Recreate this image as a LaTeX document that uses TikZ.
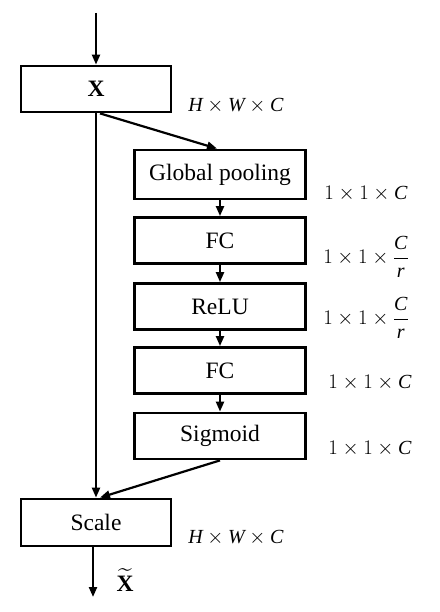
\documentclass[tikz,border=0pt]{standalone}
\usepackage{amsmath}
\usepackage{fontspec}
\setmainfont{Liberation Serif}
\usepackage{tikz}
\usetikzlibrary{arrows.meta}
\newcommand{\itv}[1]{\textit{#1}}
\tikzset{
  blk/.style={draw,line width=2.8pt,minimum height=46pt,inner sep=0pt,
    font=\fontsize{23.5}{28}\selectfont},
  wideblk/.style={blk,minimum width=150pt},
  seblk/.style={blk,minimum width=171pt},
  dimlbl/.style={font=\fontsize{20}{24}\selectfont,inner sep=0pt},
  arr/.style={line width=2.2pt,-{Triangle[length=10pt,width=8pt]}}
}

\begin{document}
\begin{tikzpicture}[x=1pt,y=-1pt]
        \useasboundingbox (0,0) rectangle (439,612);
        % the main path
        \coordinate (in) at (96,13);
        \node[wideblk] (X) at (96,89) {\textbf{X}};
        \node[wideblk,minimum height=47pt] (scale) at (96,522.5) {Scale};
        \coordinate (out) at (93,597);
        % the squeeze and excitation branch
        \node[seblk,minimum height=49pt] (gpool) at (220,174.5) {Global pooling};
        \node[seblk] (fca) at (220,240.5) {FC};
        \node[seblk] (relu) at (220,306.5) {ReLU};
        \node[seblk] (fcb) at (220,370.5) {FC};
        \node[seblk] (sigm) at (220,436) {Sigmoid};
        % sizes of the outputs
        \node[dimlbl] (dx) at (236,106) {$\itv{H}\times \itv{W}\times \itv{C}$};
        \node[dimlbl] (dgpool) at (366,194) {$1\times 1\times \itv{C}$};
        \node[dimlbl] (dfca) at (366,257) {$1\times 1\times \dfrac{\itv{C}}{\itv{r}}$};
        \node[dimlbl] (drelu) at (366,318) {$1\times 1\times \dfrac{\itv{C}}{\itv{r}}$};
        \node[dimlbl] (dfcb) at (370,383) {$1\times 1\times \itv{C}$};
        \node[dimlbl] (dsigm) at (370,449) {$1\times 1\times \itv{C}$};
        \node[dimlbl] (dscale) at (236,538) {$\itv{H}\times \itv{W}\times \itv{C}$};
        \node[font=\fontsize{23.5}{28}\selectfont,inner sep=0pt] (xt) at (125,580) {$\widetilde{\textbf{X}}$};
        % the arrows
        \draw[arr] (in) -- (X.north);
        \draw[arr] ([xshift=4pt]X.south) -- ([xshift=-3pt]gpool.north);
        \draw[arr] (X.south) -- (scale.north);
        \draw[arr] (gpool) -- (fca);
        \draw[arr] (fca) -- (relu);
        \draw[arr] (relu) -- (fcb);
        \draw[arr] (fcb) -- (sigm);
        \draw[arr] (sigm.south) -- ([xshift=4pt]scale.north);
        \draw[arr] ([xshift=-3pt]scale.south) -- (out);
\end{tikzpicture}
\end{document}
